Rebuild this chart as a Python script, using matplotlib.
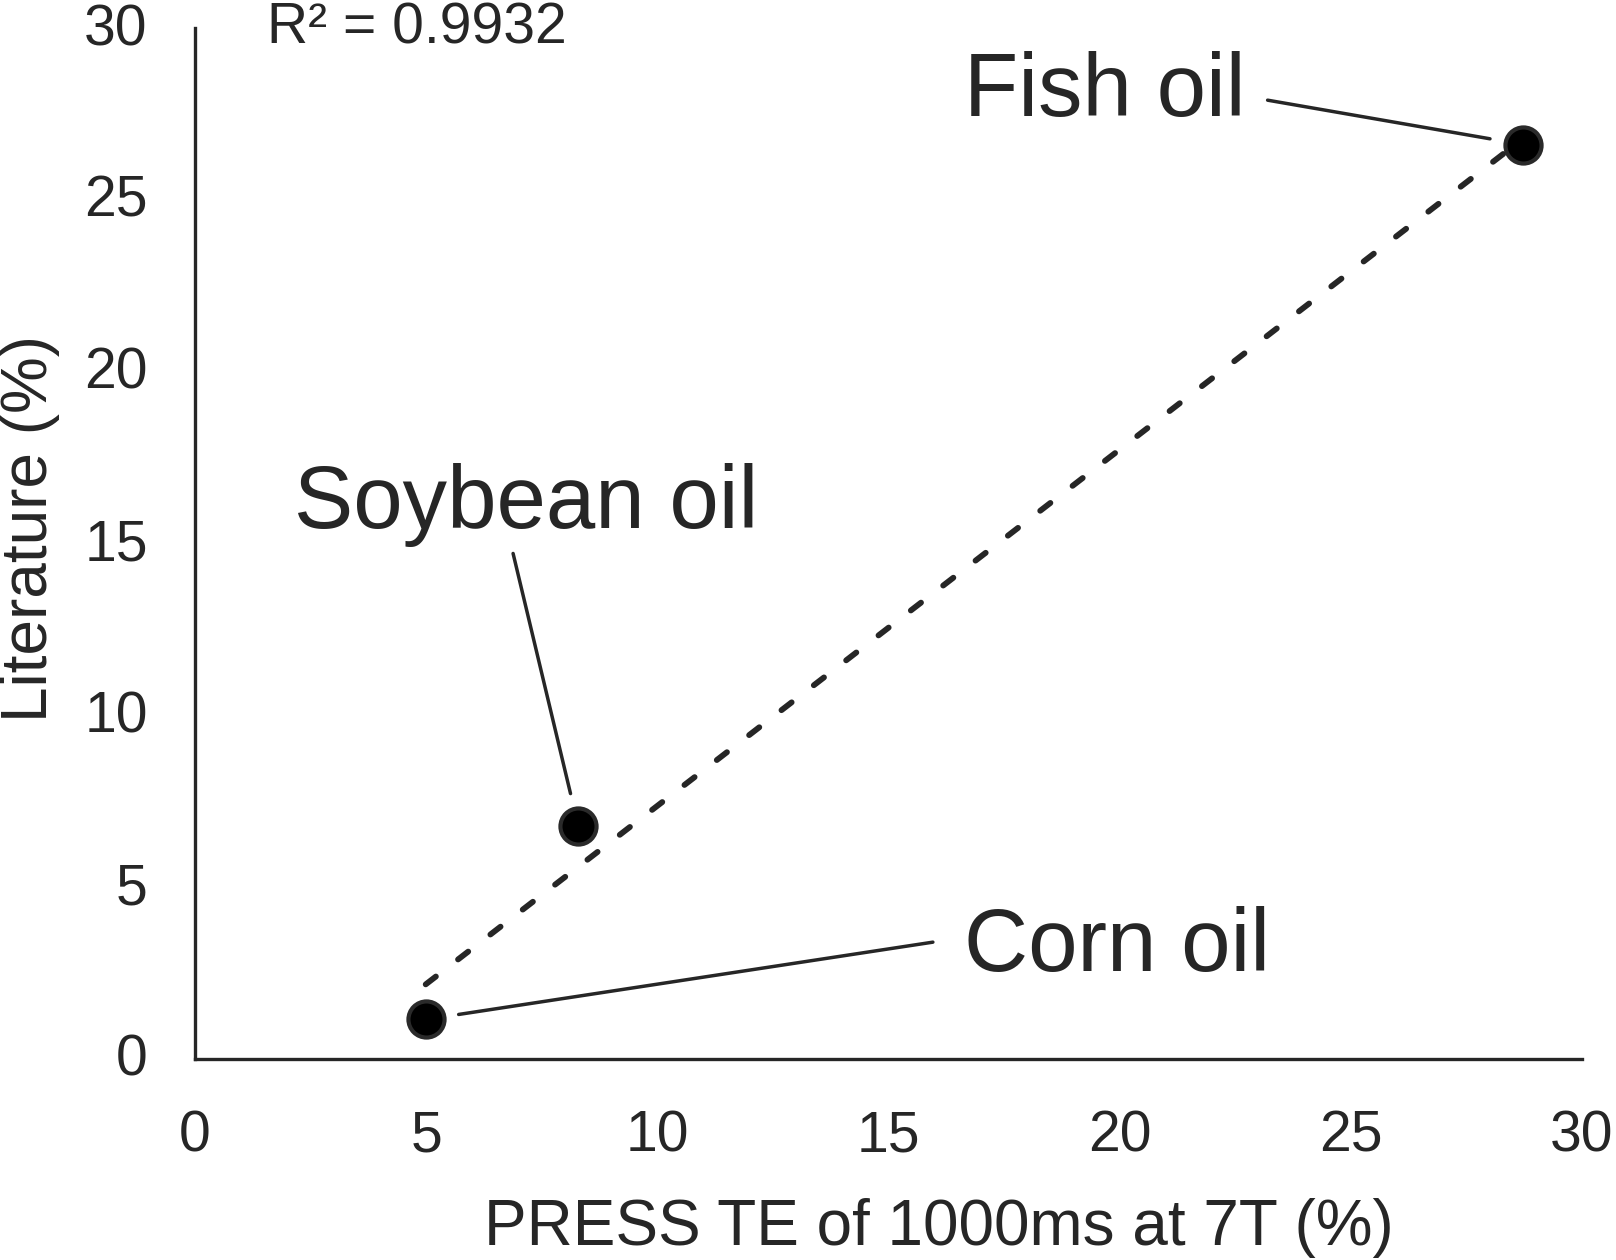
import numpy as np
import matplotlib
matplotlib.use("Agg")
import matplotlib.pyplot as plt
import matplotlib.transforms as mtransforms

plt.rcParams['font.family'] = ['Liberation Sans', 'DejaVu Sans']

# ---- data ----
oils = ["Corn oil", "Soybean oil", "Fish oil"]
press_te = [4.99, 8.29, 28.72]      # x: PRESS TE of 1000ms at 7T (%)
literature = [1.15, 6.78, 26.61]    # y: Literature (%)
r2_text = "R² = 0.9932"
x_ticks = [0, 5, 10, 15, 20, 25, 30]
y_ticks = [0, 5, 10, 15, 20, 25, 30]

# label placement (data coords): text anchor (left, baseline) and leader start
label_pos = {
    "Corn oil": (16.63, 2.56),
    "Soybean oil": (2.15, 15.46),
    "Fish oil": (16.64, 27.45),
}
leader_start = {
    "Corn oil": (15.96, 3.40),
    "Soybean oil": (6.88, 14.71),
    "Fish oil": (23.20, 27.90),
}

dark = "#262626"
W, H = 1616, 1260
fig = plt.figure(figsize=(W / 100, H / 100), dpi=100)
ax = fig.add_axes([195 / W, 1 - 1059 / H, (1582 - 195) / W, (1059 - 28) / H])

# trend line (linear fit)
slope, intercept = np.polyfit(press_te, literature, 1)
xs = np.array([min(press_te), max(press_te)])
ax.plot(xs, slope * xs + intercept, color=dark, lw=4.2,
        dashes=(2.2, 4.8), dash_capstyle='round', zorder=2)

# points
ax.plot(press_te, literature, 'o', ms=26, mfc='black', mec='#2a2a2a', mew=3,
        zorder=3, clip_on=False)

# labels + leader lines
for name, x, y in zip(oils, press_te, literature):
    tx, ty = label_pos[name]
    ax.text(tx, ty, name, fontsize=64, color=dark, ha='left', va='baseline')
    ax.annotate('', xy=(x, y), xytext=leader_start[name],
                arrowprops=dict(arrowstyle='-', color=dark, lw=2.5,
                                shrinkA=0, shrinkB=24))

ax.text(1.56, 29.56, r2_text, fontsize=41, color=dark, ha='left',
        va='baseline', clip_on=False)

ax.set_xlim(0, 30)
ax.set_ylim(0, 30)
ax.set_xticks(x_ticks)
ax.set_yticks(y_ticks)
ax.tick_params(axis='both', length=0, labelsize=41, colors=dark)
ax.tick_params(axis='x', pad=36)
ax.tick_params(axis='y', pad=34)
up = mtransforms.ScaledTranslation(0, 4 / 100, fig.dpi_scale_trans)
for lab in ax.get_yticklabels():
    lab.set_transform(lab.get_transform() + up)
for s in ['top', 'right']:
    ax.spines[s].set_visible(False)
for s in ['left', 'bottom']:
    ax.spines[s].set_color(dark)
    ax.spines[s].set_linewidth(2.4)

ax.set_xlabel("PRESS TE of 1000ms at 7T (%)", fontsize=46, color=dark, va='center')
ax.xaxis.set_label_coords(0.536, -0.164)
ax.set_ylabel("Literature (%)", fontsize=46, color=dark, va='center')
ax.yaxis.set_label_coords(-0.119, 0.515)

fig.savefig("out.png", dpi=100)
